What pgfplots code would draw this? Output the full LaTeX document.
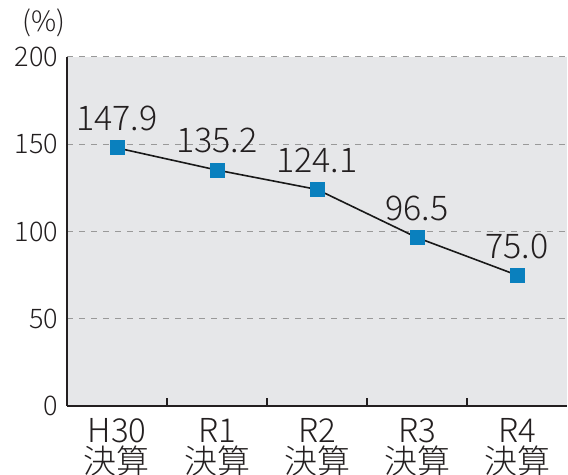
\documentclass[border=0pt]{standalone}
\usepackage{pgfplots}
\pgfplotsset{compat=1.18}
\usepackage{fontspec}
\setmainfont{Noto Sans CJK JP}[UprightFont=* Light]
\usetikzlibrary{calc}
\definecolor{bgc}{HTML}{E6E7E9}
\definecolor{mk}{HTML}{0A80BE}
\definecolor{ax}{HTML}{231F20}
\begin{document}
\begin{tikzpicture}
\begin{axis}[
  name=ax,
  scale only axis,
  width=250pt, height=174.5pt,
  xmin=-0.5, xmax=4.5, ymin=0, ymax=200,
  axis background/.style={fill=bgc},
  axis x line*=bottom, axis y line*=left,
  axis line style={ax, line width=1pt},
  xtick={0,1,2,3,4},
  xticklabels={H30\\決算,R1\\決算,R2\\決算,R3\\決算,R4\\決算},
  minor xtick={0.5,1.5,2.5,3.5},
  major x tick style={draw=none},
  minor tick length=4pt,
  tick align=inside,
  minor x tick style={ax, line width=0.8pt},
  xticklabel style={align=center, font=\fontsize{16.5}{15.5}\selectfont, text=ax, yshift=-5pt, inner sep=1pt},
  ytick={0,50,100,150,200},
  major y tick style={draw=none},
  yticklabel style={font=\fontsize{13.5}{14}\selectfont, text=ax, xshift=-1pt},
  /pgf/number format/assume math mode=true,
  ymajorgrids,
  grid style={dashed, gray!80, line width=0.5pt},
  clip=false,
]
\addplot[black!90, line width=0.8pt, mark=square*, mark size=3.5pt,
  mark options={fill=mk, draw=mk, line width=0pt},
  nodes near coords, point meta=explicit symbolic,
  every node near coord/.append style={font=\fontsize{17}{18}\selectfont, text=ax, anchor=south, yshift=5pt}]
  table[meta=lab] {
x y lab
0 147.9 147.9
1 135.2 135.2
2 124.1 124.1
3 96.5 96.5
4 75.0 75.0
};
\end{axis}
\node[font=\fontsize{14}{15}\selectfont, text=ax] at ($(ax.north west)+(-11.5pt,17pt)$) {(\%)};
\pgfresetboundingbox
\useasboundingbox ($(ax.south west)+(-33.5pt,-34.5pt)$) rectangle ($(ax.north east)+(0.5pt,28.5pt)$);
\end{tikzpicture}
\end{document}
